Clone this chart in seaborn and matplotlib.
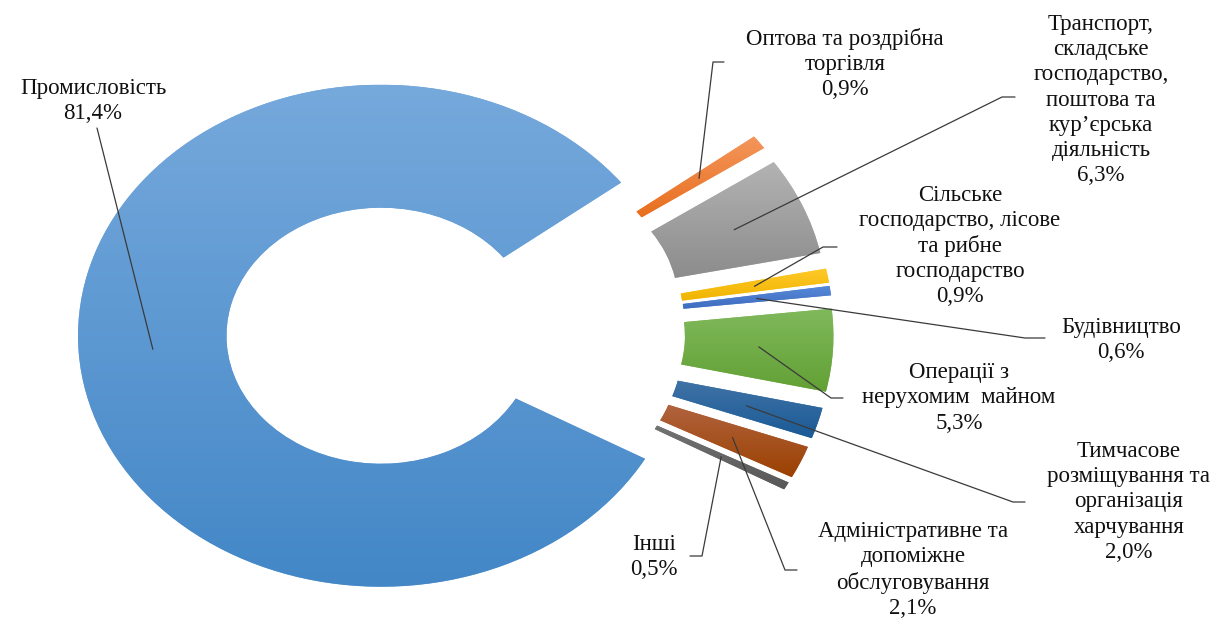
import numpy as np
import matplotlib
matplotlib.use("Agg")
import matplotlib.pyplot as plt
import seaborn as sns
from matplotlib.colors import LinearSegmentedColormap

# частки секторів, %, за годинниковою стрілкою від верхнього розрізу
sectors = [
    "Оптова та роздрібна\nторгівля",
    "Транспорт,\nскладське\nгосподарство,\nпоштова та\nкур’єрська\nдіяльність",
    "Сільське\nгосподарство, лісове\nта рибне\nгосподарство",
    "Будівництво",
    "Операції з\nнерухомим  майном",
    "Тимчасове\nрозміщування та\nорганізація\nхарчування",
    "Адміністративне та\nдопоміжне\nобслуговування",
    "Інші",
    "Промисловість",
]
shares = [0.9, 6.3, 0.9, 0.6, 5.3, 2.0, 2.1, 0.5, 81.4]

# кольори градієнта: верх / низ
top_colors = ["#F4965C", "#B3B3B3", "#FFC92A", "#5888D8", "#80B95C",
              "#4073A6", "#B1643F", "#737373", "#76A9DC"]
bottom_colors = ["#E86F1E", "#8C8C8C", "#F0B400", "#3E6DBF", "#62A034",
                 "#1A5A96", "#9B4000", "#585858", "#4387C7"]

# положення підписів у пікселях (центр блоку) і точки зламу виносок
label_xy = [(845, 64), (1101, 100), (960, 246), (1121, 340), (959, 398),
            (1129, 502), (913, 570), (654, 557), (93, 101)]
elbow_xy = [((713, 62), (724, 62)), ((1002, 97), (1015, 97)),
            ((823, 247), (837, 247)), ((1025, 338), (1045, 338)),
            ((831, 398), (843, 398)), ((1013, 502), (1025, 502)),
            ((785, 570), (797, 570)), ((702, 556), (690, 556)),
            ((97, 128), (97, 128))]

explode = [0.287] * 8 + [0.207]
ring = 0.49

sns.set_theme(style="white")
plt.rcParams["font.family"] = ["Liberation Serif", "DejaVu Serif"]

W, H = 1229, 619
fig = plt.figure(figsize=(W / 100, H / 100), dpi=100)
ax = fig.add_axes([0, 0, 1, 1])

wedges, _ = ax.pie(shares, explode=explode, startangle=37.6, counterclock=False,
                   colors=sns.color_palette(top_colors),
                   wedgeprops=dict(width=ring, linewidth=0))

grad = np.linspace(0, 1, 256).reshape(-1, 1)
for w, c_top, c_bot in zip(wedges, top_colors, bottom_colors):
    bb = w.get_path().get_extents()
    cmap = LinearSegmentedColormap.from_list("g", [c_bot, c_top])
    im = ax.imshow(grad, cmap=cmap, origin="lower", aspect="auto",
                   extent=(bb.x0, bb.x1, bb.y0, bb.y1), interpolation="bicubic",
                   zorder=w.get_zorder() + 0.1)
    im.set_clip_path(w)

# розтягнення по горизонталі, як у вихідній діаграмі
cx, cy, sx, sy = 443.6, 332.0, 303.0, 251.0
ax.set_aspect("auto")
ax.set_xlim(-cx / sx, (W - cx) / sx)
ax.set_ylim((cy - H) / sy, cy / sy)
ax.axis("off")

inv = ax.transData.inverted()


def px(x, y):
    return inv.transform((x, H - y))


for w, name, val, (lx, ly), (e1, e2) in zip(wedges, sectors, shares, label_xy, elbow_xy):
    mid = np.deg2rad((w.theta1 + w.theta2) / 2)
    rm = w.r - ring / 2
    ax_, ay_ = w.center[0] + rm * np.cos(mid), w.center[1] + rm * np.sin(mid)
    p1, p2 = px(*e1), px(*e2)
    ax.plot([ax_, p1[0], p2[0]], [ay_, p1[1], p2[1]], color="#3a3a3a", lw=0.9, zorder=5)
    txt = name + "\n" + f"{val:.1f}".replace(".", ",") + "%"
    tx, ty = px(lx, ly)
    ax.text(tx, ty, txt, ha="center", va="center", multialignment="center",
            fontsize=16.5, linespacing=1.26, color="#111111", zorder=6)

fig.savefig("out.png", dpi=100)
